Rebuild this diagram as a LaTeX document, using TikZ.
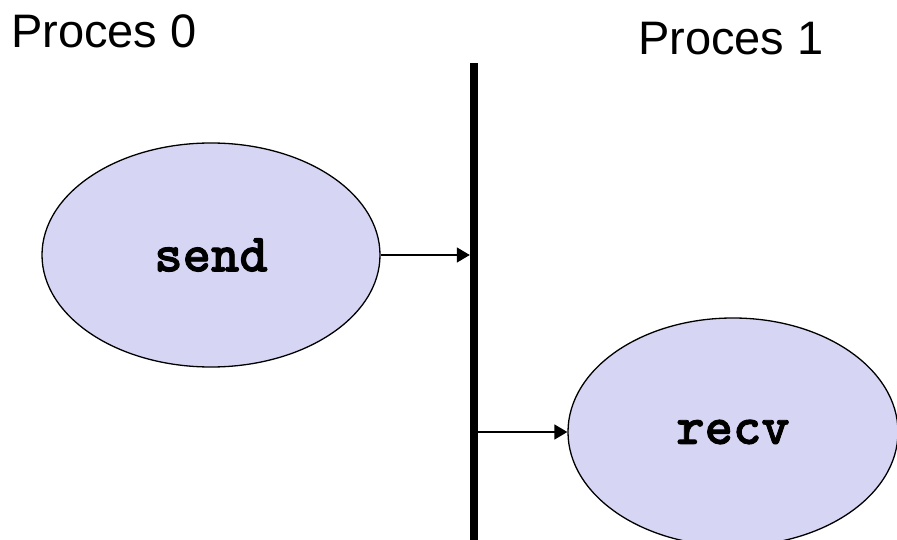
\documentclass[tikz,border=0pt]{standalone}
\usepackage{fontspec}
\setmainfont{Liberation Sans}
\newfontfamily\codefont{lmmonolt10-bold}[Extension=.otf, FakeBold=1.6]
\usetikzlibrary{shapes.geometric,arrows.meta}
\definecolor{procfill}{RGB}{214,214,244}
\tikzset{
  proc/.style={ellipse, draw=black, line width=1.3pt, fill=procfill,
    inner sep=0pt, font=\codefont\fontsize{54}{60}\selectfont},
  label/.style={inner sep=0pt, anchor=base west, font=\fontsize{47}{55}\selectfont},
  msg/.style={line width=1.5pt, -{Triangle[length=13pt,width=15pt]}}
}
\begin{document}
\begin{tikzpicture}[x=1pt,y=-1pt]
  \useasboundingbox (0,0) rectangle (897,540);
  \fill[white] (0,0) rectangle (897,540);
  % process labels
  \node[label] (p0) at (11,48) {Proces 0};
  \node[label] (p1) at (638,55) {Proces 1};
  % timeline separating the two processes
  \node[draw=none, fill=black, inner sep=0pt, minimum width=8pt,
        minimum height=478pt, anchor=north] (bar) at (474,63) {};
  % operations
  \node[proc, minimum width=338pt, minimum height=224pt] (send) at (211,255) {send};
  \node[proc, minimum width=330pt, minimum height=228pt] (recv) at (733,432) {recv};
  % messages
  \draw[msg] (send.east) -- (send.east -| bar.west);
  \draw[msg] (bar.east |- recv.west) -- (recv.west);
\end{tikzpicture}
\end{document}
